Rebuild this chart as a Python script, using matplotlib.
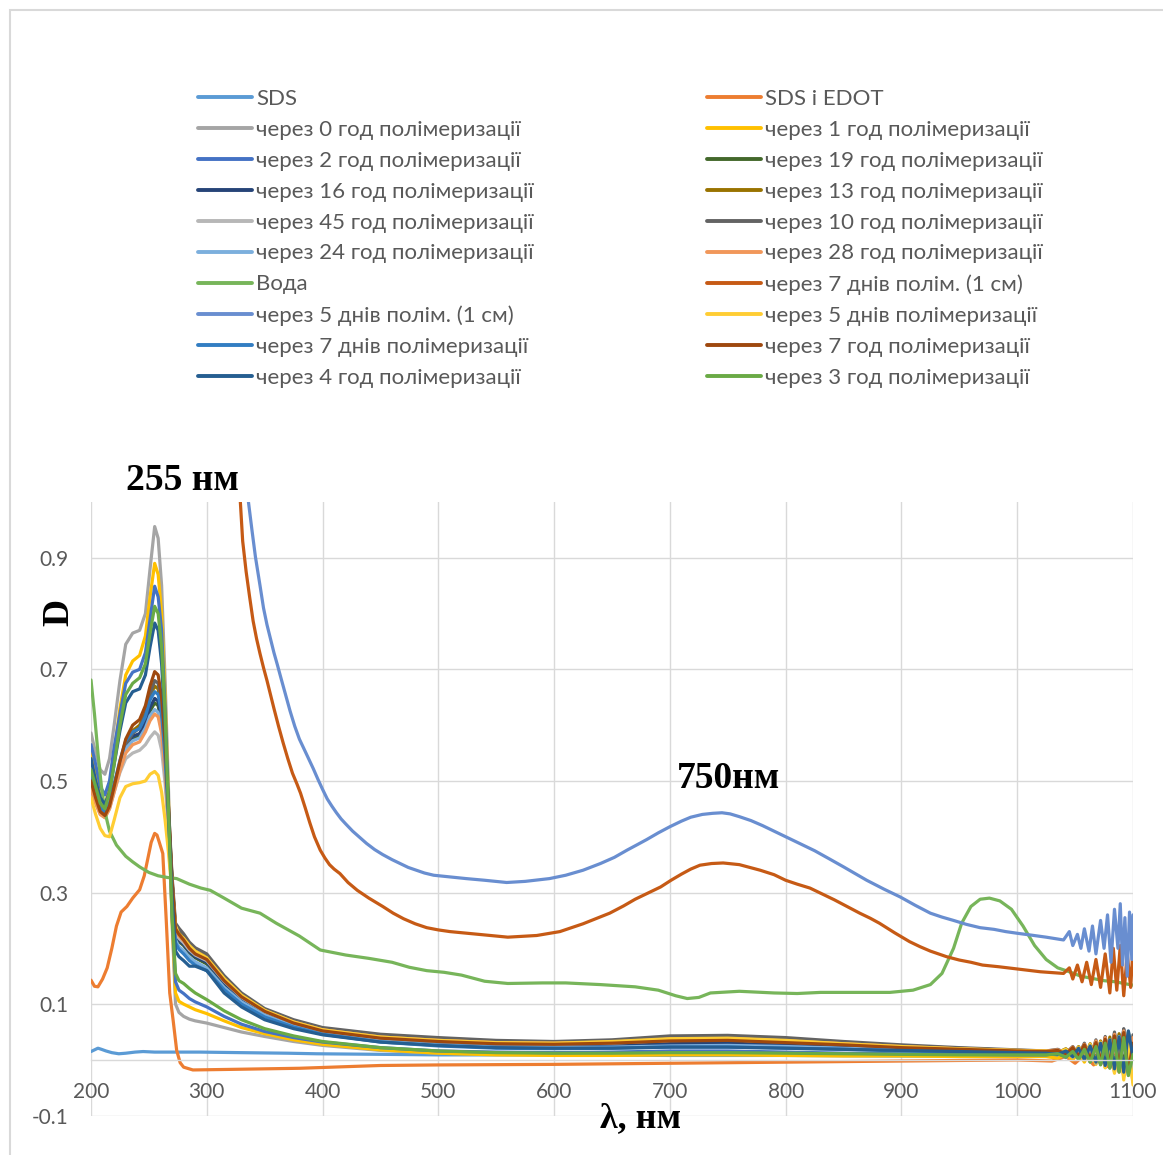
import matplotlib
matplotlib.use("Agg")
import matplotlib.pyplot as plt
from matplotlib.patches import Rectangle

plt.rcParams['font.family'] = ['Lato', 'DejaVu Sans']

W, H = 1163, 1155

# ---------------- data ----------------
# shared wavelength grid (nm) for the polymerisation series
wl_uv = [200, 204, 208, 212, 216, 220, 225, 230, 236, 242, 247, 251, 255, 258, 261,
         264, 267, 270, 273, 276, 280, 285, 290, 300, 315, 330, 350, 375, 400, 450,
         500, 550, 600, 650, 700, 750, 800, 850, 900, 950, 1000, 1025]
wl_tail = [1035, 1042, 1048, 1053, 1058, 1063, 1068, 1072, 1076, 1080, 1084, 1088,
           1092, 1096, 1100]

d_0h = [.586, .55, .52, .512, .54, .60, .68, .745, .765, .77, .80, .88, .956, .935, .85,
        .68, .48, .25, .10, .085, .078, .073, .070, .066, .058, .050, .042, .033, .026, .017,
        .012, .010, .010, .011, .013, .013, .012, .010, .009, .008, .008, .008]
t_0h = [.010, .004, .013, .002, .016, -.004, .020, -.008, .026, -.012, .030, -.020, .034, -.024, .012]

d_1h = [.55, .51, .47, .455, .49, .55, .63, .69, .715, .725, .76, .83, .89, .87, .80,
        .65, .46, .25, .12, .105, .100, .095, .090, .083, .070, .058, .047, .036, .028, .018,
        .012, .009, .008, .008, .009, .009, .008, .007, .007, .006, .006, .006]
t_1h = [.003, .010, .000, .014, -.004, .018, -.008, .024, -.014, .030, -.022, .036, -.030, .020, -.040]

d_2h = [.565, .53, .49, .475, .50, .56, .62, .675, .695, .70, .73, .79, .849, .83, .77,
        .63, .45, .26, .14, .125, .119, .110, .104, .095, .078, .064, .051, .040, .032, .022,
        .016, .014, .013, .014, .016, .016, .014, .012, .011, .010, .009, .009]
t_2h = [.012, .005, .016, .002, .020, -.003, .026, -.008, .032, -.014, .040, -.018, .046, -.010, .030]

d_3h = [.52, .49, .46, .45, .48, .53, .60, .655, .675, .685, .71, .765, .813, .80, .74,
        .62, .44, .26, .155, .142, .137, .128, .12, .108, .088, .072, .056, .043, .033, .022,
        .016, .013, .012, .012, .013, .013, .012, .011, .010, .009, .009, .009]
t_3h = [.011, .005, .015, .001, .019, -.004, .024, -.009, .030, -.015, .035, -.022, .040, -.028, .010]

d_4h = [.54, .50, .47, .458, .48, .53, .59, .64, .66, .665, .69, .74, .783, .77, .71,
        .60, .44, .29, .195, .185, .178, .168, .168, .16, .12, .095, .072, .056, .045, .032,
        .026, .022, .021, .021, .023, .023, .021, .019, .017, .015, .013, .012]
t_4h = [.010, .016, .006, .021, .001, .025, -.004, .030, -.010, .036, -.016, .041, -.022, .052, .005]

d_7h = [.50, .47, .445, .438, .455, .49, .535, .575, .60, .61, .635, .67, .696, .69, .65,
        .57, .45, .32, .235, .225, .215, .2, .19, .18, .142, .113, .087, .066, .052, .039,
        .033, .029, .028, .030, .034, .035, .031, .027, .022, .019, .016, .015]
t_7h = [.017, .011, .022, .007, .027, .001, .031, -.004, .037, -.011, .043, -.016, .049, -.022, .030]

d_10h = [.49, .465, .445, .44, .455, .49, .53, .565, .585, .595, .62, .655, .68, .675, .64,
         .56, .45, .33, .245, .236, .226, .211, .201, .19, .151, .120, .092, .072, .058, .046,
         .040, .035, .033, .036, .043, .044, .040, .033, .027, .022, .018, .016]
t_10h = [.019, .012, .024, .008, .030, .002, .036, -.005, .042, -.012, .050, -.018, .056, -.008, .045]

d_13h = [.495, .468, .445, .438, .455, .49, .532, .57, .59, .60, .622, .652, .67, .665, .63,
         .55, .44, .325, .238, .228, .218, .204, .195, .184, .146, .116, .089, .069, .055, .042,
         .036, .032, .031, .033, .038, .039, .035, .030, .025, .021, .017, .016]
t_13h = [.013, .020, .008, .024, .003, .029, -.002, .034, -.009, .041, -.017, .047, -.026, .038, -.010]

d_16h = [.505, .475, .448, .44, .457, .49, .53, .565, .58, .585, .605, .632, .648, .643, .61,
         .535, .435, .32, .23, .215, .207, .194, .185, .175, .138, .110, .085, .065, .051, .037,
         .030, .026, .025, .026, .029, .030, .027, .024, .020, .017, .015, .014]
t_16h = [.016, .009, .021, .005, .026, .000, .032, -.006, .040, -.010, .047, -.020, .055, -.015, .035]

d_19h = [.50, .47, .445, .438, .455, .485, .525, .56, .575, .58, .60, .625, .64, .635, .60,
         .53, .43, .32, .225, .212, .205, .192, .183, .172, .136, .108, .083, .064, .050, .036,
         .029, .025, .024, .025, .028, .029, .026, .023, .019, .016, .014, .013]
t_19h = [.010, .017, .006, .021, .002, .026, -.003, .031, -.008, .037, -.016, .044, -.012, .050, .000]

d_24h = [.50, .47, .447, .44, .456, .488, .527, .558, .572, .577, .595, .617, .628, .623, .59,
         .52, .42, .31, .215, .203, .196, .184, .176, .165, .130, .104, .080, .061, .048, .034,
         .027, .023, .022, .023, .025, .026, .024, .021, .018, .015, .013, .012]
t_24h = [.010, .016, .005, .020, .000, .025, -.006, .030, -.012, .036, -.020, .042, -.028, .034, -.020]

d_28h = [.485, .46, .44, .434, .45, .48, .518, .55, .565, .57, .588, .608, .62, .615, .585,
         .515, .42, .315, .232, .222, .214, .2, .191, .181, .144, .114, .088, .068, .054, .041,
         .035, .031, .030, .032, .037, .038, .034, .029, .024, .020, .017, .016]
t_28h = [.018, .012, .023, .007, .028, .001, .034, -.006, .040, -.014, .046, -.022, .052, -.012, .040]

d_45h = [.485, .46, .44, .435, .45, .48, .515, .54, .55, .555, .565, .578, .588, .582, .555,
         .495, .41, .315, .228, .218, .21, .197, .188, .178, .141, .112, .086, .066, .052, .039,
         .033, .029, .028, .030, .035, .036, .032, .028, .023, .019, .016, .015]
t_45h = [.018, .011, .022, .006, .027, .002, .033, -.004, .038, -.012, .044, -.019, .036, -.028, .020]

d_5d = [.47, .44, .415, .402, .40, .43, .47, .49, .495, .497, .50, .512, .517, .51, .48,
        .43, .37, .30, .24, .225, .218, .205, .195, .183, .146, .116, .089, .068, .054, .041,
        .035, .031, .030, .033, .038, .039, .035, .029, .024, .020, .017, .016]
t_5d = [.013, .019, .008, .023, .002, .028, -.005, .032, -.014, .036, -.024, .040, -.036, .030, -.045]

d_7d = [.51, .48, .452, .444, .46, .495, .537, .572, .588, .594, .615, .645, .66, .655, .62,
        .54, .43, .31, .21, .198, .19, .178, .17, .16, .126, .100, .077, .059, .046, .032,
        .025, .021, .020, .021, .023, .023, .021, .019, .016, .014, .012, .011]
t_7d = [.013, .007, .018, .003, .022, -.002, .027, -.007, .033, -.013, .039, -.020, .044, -.026, .025]

# SDS solution
wl_sds = [200, 203, 206, 209, 213, 218, 224, 230, 238, 245, 255, 270, 294, 330, 370, 395,
          450, 500, 600, 700, 800, 900, 1000, 1030, 1045, 1055, 1065, 1075, 1085, 1093, 1100]
d_sds = [.015, .018, .021, .019, .016, .013, .011, .012, .014, .015, .014, .014, .014, .013,
         .012, .011, .010, .009, .009, .008, .008, .007, .007, .006, .009, .003, .011, .000,
         .014, -.004, .010]

# SDS + EDOT
wl_edot = [200, 203, 206, 210, 214, 218, 222, 226, 231, 236, 242, 246, 249, 252, 255, 257,
           259, 262, 265, 268, 271, 274, 277, 280, 288, 320, 380, 450, 500, 600, 700, 800,
           900, 1000, 1030, 1042, 1050, 1058, 1066, 1072, 1078, 1084, 1090, 1095, 1100]
d_edot = [.143, .132, .131, .145, .165, .20, .24, .265, .275, .29, .305, .33, .36, .39, .406,
          .403, .39, .37, .25, .12, .07, .017, -.005, -.013, -.018, -.017, -.015, -.010, -.009,
          -.008, -.006, -.004, -.002, .000, -.002, .006, -.006, .009, -.009, .013, -.012,
          .018, -.018, .020, .004]

# water
wl_water = [200, 203, 206, 209, 212, 216, 222, 230, 236, 242, 250, 258, 266, 274, 285, 295,
            303, 315, 330, 346, 360, 380, 398, 420, 440, 460, 475, 490, 505, 520, 540, 560,
            590, 610, 640, 670, 690, 705, 715, 725, 735, 760, 790, 810, 830, 860, 890, 910,
            925, 935, 945, 952, 960, 968, 976, 985, 995, 1005, 1015, 1025, 1035, 1045, 1055,
            1065, 1075, 1085, 1092, 1100]
d_water = [.681, .62, .55, .49, .445, .41, .385, .365, .355, .346, .336, .33, .327, .325,
           .315, .308, .304, .29, .272, .263, .245, .222, .197, .188, .182, .175, .166, .16,
           .157, .152, .141, .137, .138, .138, .135, .131, .125, .115, .11, .112, .12, .123,
           .12, .119, .121, .121, .121, .125, .135, .155, .20, .245, .275, .288, .29, .285,
           .27, .24, .205, .18, .165, .158, .15, .146, .142, .14, .137, .134]

# 5 days of polymerisation, 1 cm cell
wl_5d1 = [290, 310, 325, 336, 339, 342, 346, 349, 352, 355, 358, 361, 364, 368, 372, 376,
          380, 385, 392, 396, 400, 404, 408, 412, 416, 420, 426, 432, 438, 445, 452, 460,
          467, 474, 481, 488, 496, 510, 524, 540, 559, 575, 596, 610, 625, 640, 652, 663,
          672, 680, 690, 700, 710, 718, 728, 737, 745, 752, 760, 770, 780, 790, 800, 812,
          825, 838, 850, 860, 870, 885, 899, 912, 925, 935, 945, 956, 968, 980, 990, 1000,
          1011, 1025, 1040, 1045, 1048, 1052, 1055, 1058, 1062, 1065, 1068, 1072, 1075,
          1078, 1081, 1084, 1087, 1089, 1091, 1093, 1095, 1097, 1099, 1100]
d_5d1 = [2.2, 1.6, 1.25, 1.0, .95, .902, .85, .81, .78, .755, .73, .708, .685, .655, .625,
         .598, .575, .553, .522, .503, .485, .468, .455, .443, .432, .423, .41, .399, .388,
         .377, .368, .359, .352, .345, .340, .335, .331, .328, .325, .322, .318, .32, .325,
         .331, .34, .352, .363, .376, .386, .395, .407, .418, .428, .435, .44, .442, .443,
         .441, .436, .429, .42, .41, .40, .388, .375, .36, .346, .334, .322, .306, .292,
         .277, .263, .256, .25, .243, .237, .234, .23, .227, .224, .22, .215, .23, .205,
         .225, .20, .235, .195, .24, .19, .25, .2, .26, .175, .27, .2, .28, .17, .255, .15,
         .265, .18, .26]

# 7 days of polymerisation, 1 cm cell
wl_7d1 = [290, 305, 318, 329, 331, 334, 337, 340, 343, 346, 349, 352, 355, 358, 362, 366,
          370, 374, 378, 381, 385, 389, 393, 398, 402, 406, 410, 415, 422, 430, 440, 452,
          461, 470, 480, 490, 500, 510, 530, 560, 585, 605, 625, 648, 660, 670, 681, 692,
          701, 710, 718, 726, 736, 746, 760, 778, 790, 800, 810, 821, 832, 842, 853, 864,
          873, 881, 894, 907, 916, 925, 939, 950, 960, 970, 984, 996, 1008, 1020, 1040,
          1045, 1048, 1052, 1056, 1060, 1064, 1068, 1072, 1076, 1080, 1083, 1086, 1089,
          1092, 1095, 1098, 1100]
d_7d1 = [2.4, 1.7, 1.25, 1.0, .93, .875, .83, .787, .755, .728, .703, .68, .655, .63, .598,
         .568, .54, .514, .494, .478, .452, .425, .40, .376, .362, .35, .342, .334, .318,
         .304, .29, .275, .263, .253, .244, .237, .233, .23, .226, .22, .223, .23, .244,
         .263, .276, .288, .299, .31, .322, .333, .342, .349, .352, .353, .35, .34, .332,
         .322, .315, .308, .297, .287, .275, .263, .254, .245, .228, .212, .203, .195,
         .185, .179, .175, .17, .167, .164, .161, .158, .155, .165, .145, .17, .14, .175,
         .135, .18, .13, .19, .12, .2, .125, .205, .115, .19, .13, .2]

# (label, colour, wavelengths, values) in drawing order
series = [
    ("SDS", "#5B9BD5", wl_sds, d_sds),
    ("SDS і EDOT", "#ED7D31", wl_edot, d_edot),
    ("через 0 год полімеризації", "#A5A5A5", wl_uv + wl_tail, d_0h + t_0h),
    ("через 1 год полімеризації", "#FFC000", wl_uv + wl_tail, d_1h + t_1h),
    ("через 2 год полімеризації", "#4472C4", wl_uv + wl_tail, d_2h + t_2h),
    ("через 19 год полімеризації", "#43682B", wl_uv + wl_tail, d_19h + t_19h),
    ("через 16 год полімеризації", "#264478", wl_uv + wl_tail, d_16h + t_16h),
    ("через 13 год полімеризації", "#997300", wl_uv + wl_tail, d_13h + t_13h),
    ("через 45 год полімеризації", "#B7B7B7", wl_uv + wl_tail, d_45h + t_45h),
    ("через 10 год полімеризації", "#636363", wl_uv + wl_tail, d_10h + t_10h),
    ("через 24 год полімеризації", "#7CAFDD", wl_uv + wl_tail, d_24h + t_24h),
    ("через 28 год полімеризації", "#F1975A", wl_uv + wl_tail, d_28h + t_28h),
    ("Вода", "#77B55A", wl_water, d_water),
    ("через 7 днів полім. (1 см)", "#C65A15", wl_7d1, d_7d1),
    ("через 5 днів полім. (1 см)", "#698ED0", wl_5d1, d_5d1),
    ("через 5 днів полімеризації", "#FFCD33", wl_uv + wl_tail, d_5d + t_5d),
    ("через 7 днів полімеризації", "#327DC2", wl_uv + wl_tail, d_7d + t_7d),
    ("через 7 год полімеризації", "#9E480E", wl_uv + wl_tail, d_7h + t_7h),
    ("через 4 год полімеризації", "#255E91", wl_uv + wl_tail, d_4h + t_4h),
    ("через 3 год полімеризації", "#6AAA45", wl_uv + wl_tail, d_3h + t_3h),
]

x_ticks = [200, 300, 400, 500, 600, 700, 800, 900, 1000, 1100]
y_ticks = [-0.1, 0.1, 0.3, 0.5, 0.7, 0.9]
y_labels = ["-0.1", "0.1", "0.3", "0.5", "0.7", "0.9"]

# ---------------- figure ----------------
fig = plt.figure(figsize=(W / 100, H / 100), dpi=100)
fig.patch.set_facecolor("white")

# chart-area frame
fig.add_artist(Rectangle((10 / W, -0.1), 1.2, 1 - 10 / H + 0.1, transform=fig.transFigure,
                         fill=False, edgecolor="#D9D9D9", linewidth=1.5))

ax = fig.add_axes([91 / W, 1 - 1115.7 / H, 1042 / W, 613.7 / H])
ax.set_facecolor("none")

lines = {}
for label, color, x, y in series:
    ln, = ax.plot(x, y, color=color, linewidth=2.3, label=label,
                  solid_joinstyle="round", solid_capstyle="round")
    lines[label] = ln

ax.set_xlim(200, 1100)
ax.set_ylim(-0.1, 1.0)
ax.set_xticks(x_ticks)
ax.set_xticklabels([str(v) for v in x_ticks])
ax.set_yticks(y_ticks)
ax.set_yticklabels(y_labels)
ax.grid(True, color="#D9D9D9", linewidth=1.0, zorder=0)
ax.set_axisbelow(True)
for s in ("top", "right", "left"):
    ax.spines[s].set_visible(False)
ax.spines["bottom"].set_position(("data", 0))
ax.spines["bottom"].set_color("#D9D9D9")
ax.spines["bottom"].set_linewidth(1.0)
ax.tick_params(axis="both", length=0, colors="#595959", labelsize=15)
ax.tick_params(axis="x", pad=16)
ax.tick_params(axis="y", pad=16)

# annotations
serif = dict(family="Liberation Serif", weight="bold", color="black")
fig.text(182 / W, 1 - 481 / H, "255 нм", ha="center", va="center", fontsize=27, **serif)
fig.text(728 / W, 1 - 778 / H, "750нм", ha="center", va="center", fontsize=27, **serif)
fig.text(59 / W, 1 - 612 / H, "D", ha="center", va="center", rotation=90, fontsize=27, **serif)
fig.text(600 / W, 1 - 1102 / H, "λ, нм", ha="left", va="top", fontsize=26, **serif)

# legend, two columns
left_labels = ["SDS", "через 0 год полімеризації", "через 2 год полімеризації",
               "через 16 год полімеризації", "через 45 год полімеризації",
               "через 24 год полімеризації", "Вода", "через 5 днів полім. (1 см)",
               "через 7 днів полімеризації", "через 4 год полімеризації"]
right_labels = ["SDS і EDOT", "через 1 год полімеризації", "через 19 год полімеризації",
                "через 13 год полімеризації", "через 10 год полімеризації",
                "через 28 год полімеризації", "через 7 днів полім. (1 см)",
                "через 5 днів полімеризації", "через 7 год полімеризації",
                "через 3 год полімеризації"]
leg_kw = dict(loc="upper left", frameon=False, fontsize=16, handlelength=2.43,
              handletextpad=0.18, labelspacing=0.49, borderpad=0, borderaxespad=0,
              labelcolor="#595959")
leg1 = fig.legend([lines[l] for l in left_labels], left_labels,
                  bbox_to_anchor=(198 / W, 1 - 89 / H), **leg_kw)
leg2 = fig.legend([lines[l] for l in right_labels], right_labels,
                  bbox_to_anchor=(707 / W, 1 - 89 / H), **leg_kw)
for lg in (leg1, leg2):
    for h in lg.legend_handles:
        h.set_linewidth(2.8)

fig.savefig("out.png", dpi=100)
